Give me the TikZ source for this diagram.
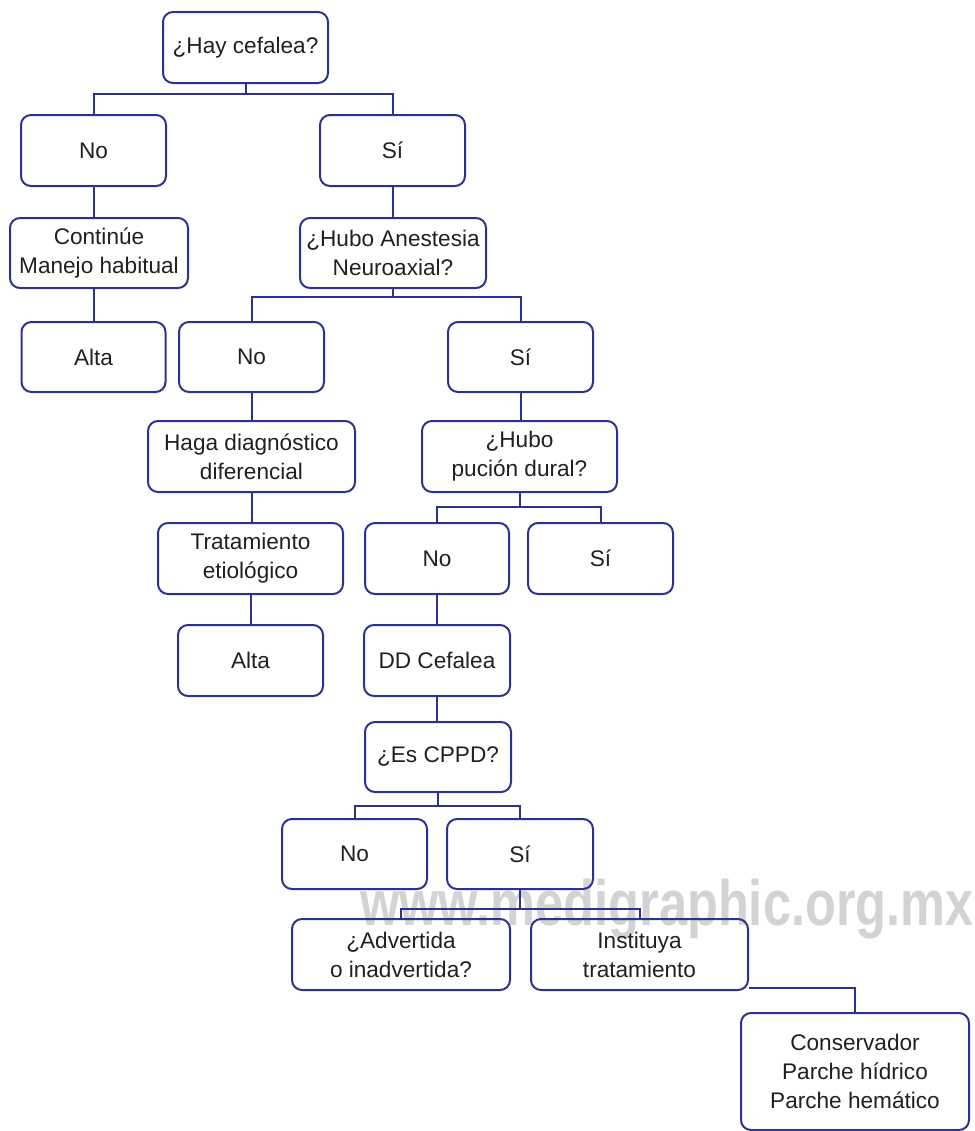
\documentclass[tikz,border=0pt]{standalone}
\usepackage{fontspec}
\setmainfont{Liberation Sans}
\definecolor{boxblue}{RGB}{45,49,146}
\definecolor{inkblack}{RGB}{35,31,32}
\definecolor{markgray}{RGB}{210,211,213}
\tikzset{
  caja/.style={draw=boxblue, line width=1pt, rounded corners=5pt, align=center,
    text=inkblack, font=\fontsize{11.3}{14.5}\selectfont, inner sep=0pt,
    minimum width=72.5pt, minimum height=35.5pt},
  link/.style={draw=boxblue, line width=1pt},
}
\begin{document}
\begin{tikzpicture}[x=0.5pt, y=-0.5pt]
\useasboundingbox (0,0) rectangle (975,1131);
% marca de agua
\node[font=\fontsize{32}{32}\selectfont\bfseries, text=markgray, anchor=base west,
  xscale=0.79, inner sep=0pt] (marca) at (360,925) {www.medigraphic.org.mx};
% cajas
\node[caja, minimum width=82.5pt] (hay) at (245.5,47.5) {¿Hay cefalea?};
\node[caja] (no1) at (93.5,150.5) {No};
\node[caja] (si1) at (392.5,150.5) {Sí};
\node[caja, minimum width=89pt, minimum height=35pt] (cont) at (99,253) {Continúe\\Manejo habitual};
\node[caja, minimum width=93pt, minimum height=35pt] (anest) at (393,253) {¿Hubo Anestesia\\Neuroaxial?};
\node[caja, minimum width=72pt, minimum height=35pt] (alta1) at (93.5,357) {Alta};
\node[caja, minimum height=35pt] (no2) at (251.5,357) {No};
\node[caja, minimum height=35pt] (si2) at (520.5,357) {Sí};
\node[caja, minimum width=103.5pt] (haga) at (251.5,456.5) {Haga diagnóstico\\diferencial};
\node[caja, minimum width=97.5pt] (pucion) at (519.5,456.5) {¿Hubo\\pución dural?};
\node[caja, minimum width=92.5pt] (trat) at (250.5,558.5) {Tratamiento\\etiológico};
\node[caja, minimum width=72pt] (no3) at (437,558.5) {No};
\node[caja] (si3) at (600.5,558.5) {Sí};
\node[caja] (alta2) at (250.5,660.5) {Alta};
\node[caja, minimum width=73pt] (dd) at (437,660.5) {DD Cefalea};
\node[caja, minimum width=73pt, minimum height=35pt] (cppd) at (438,757) {¿Es CPPD?};
\node[caja, minimum height=35pt] (no4) at (354.5,854) {No};
\node[caja, minimum width=73pt, minimum height=35pt] (si4) at (520,854) {Sí};
\node[caja, minimum width=109pt] (advert) at (401,954.5) {¿Advertida\\o inadvertida?};
\node[caja, minimum width=108.5pt] (inst) at (639.5,954.5) {Instituya\\tratamiento};
\node[caja, minimum width=114pt, minimum height=58.5pt] (cons) at (855,1071.5) {Conservador\\Parche hídrico\\Parche hemático};
% conectores
\draw[link] (hay.south) -- ++(0,10) coordinate (b1);
\draw[link] (no1.north) |- (b1) -| (si1.north);
\draw[link] (no1.south) -- (no1.south |- cont.north);
\draw[link] (alta1.north |- cont.south) -- (alta1.north);
\draw[link] (si1.south) -- (si1.south |- anest.north);
\draw[link] (anest.south) -- ++(0,8) coordinate (b2);
\draw[link] (no2.north) |- (b2) -| (si2.north);
\draw[link] (no2.south) -- (no2.south |- haga.north);
\draw[link] (haga.south) -- (haga.south |- trat.north);
\draw[link] (trat.south) -- (trat.south |- alta2.north);
\draw[link] (si2.south) -- (si2.south |- pucion.north);
\draw[link] (pucion.south) -- ++(0,14) coordinate (b3);
\draw[link] (no3.north) |- (b3) -| (si3.north);
\draw[link] (no3.south) -- (no3.south |- dd.north);
\draw[link] (dd.south) -- (dd.south |- cppd.north);
\draw[link] (cppd.south) -- ++(0,13) coordinate (b4);
\draw[link] (no4.north) |- (b4) -| (si4.north);
\draw[link] (si4.south) -- ++(0,19) coordinate (b5);
\draw[link] (advert.north) |- (b5) -| (inst.north);
\draw[link] ([yshift=1.5pt]inst.south east) -| (cons.north);
\end{tikzpicture}
\end{document}
